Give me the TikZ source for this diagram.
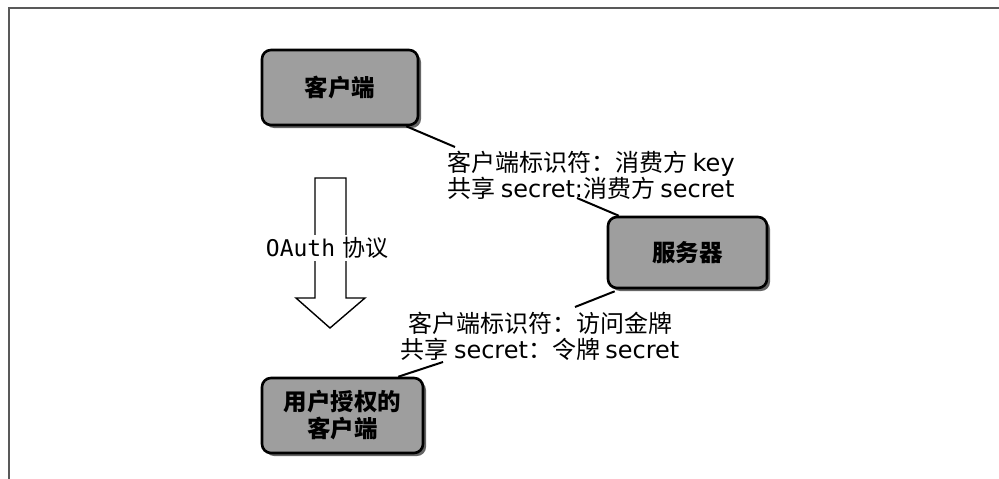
\documentclass[tikz,border=0pt]{standalone}
\usepackage{fontspec}
\newfontfamily\cjk{Noto Sans CJK SC}
\newfontfamily\lat{DejaVu Sans}
\newfontfamily\mono{DejaVu Sans Mono}
\usetikzlibrary{calc,shadows}
\tikzset{
  box/.style={draw=black, line width=2.6pt, rounded corners=9pt, fill=black!38,
    font=\fontsize{23.5}{27}\selectfont\cjk\bfseries, align=center, inner sep=0pt,
    drop shadow={shadow xshift=3pt, shadow yshift=-3pt, fill=black!75, opacity=0.8}},
  lbl/.style={font=\fontsize{24}{26}\selectfont\cjk, align=center, inner sep=0pt},
  conn/.style={line width=2pt, black},
  frame/.style={line width=1.6pt, black!65}
}
\begin{document}
\begin{tikzpicture}[x=1pt,y=-1pt]
\useasboundingbox (0,0) rectangle (999,479);
\draw[frame] (9,479) -- (9,8) -- (999,8);

\node[box, minimum width=156pt, minimum height=75pt] (b1) at (340,87.5) {客户端};
\node[box, minimum width=159pt, minimum height=71pt] (b2) at (687.5,252.5) {服务器};
\node[box, minimum width=161pt, minimum height=75pt] (b3) at (342.5,415.5) {用户授权的\\客户端};

\node[lbl] (l1) at (591,175.5) {客户端标识符：消费方 {\lat key}\\共享 {\lat secret:}消费方 {\lat secret}};
\node[lbl] (l2) at (540,336.5) {客户端标识符：访问金牌\\共享 {\lat secret}：令牌 {\lat secret}};

\draw[conn] ($(b1.south east)+(-13,0)$) -- ($(l1.center)+(-136,-28.5)$);
\draw[conn] ($(l1.center)+(-14,22.5)$) -- ($(b2.north west)+(12,0)$);
\draw[conn] ($(b2.south west)+(8,2)$) -- ($(l2.center)+(35,-29.5)$);
\draw[conn] ($(l2.center)+(-97,25.5)$) -- ($(b3.north east)+(-26,0)$);

\draw[line width=1.4pt, line join=miter] (315,178) -- (346,178) -- (346,298) -- (365,298) -- (330,328) -- (296,298) -- (315,298) -- cycle;
\node[fill=white, inner sep=2pt, font=\fontsize{23}{26}\selectfont] (oa) at (327,248) {{\mono OAuth} {\cjk 协议}};
\end{tikzpicture}
\end{document}
